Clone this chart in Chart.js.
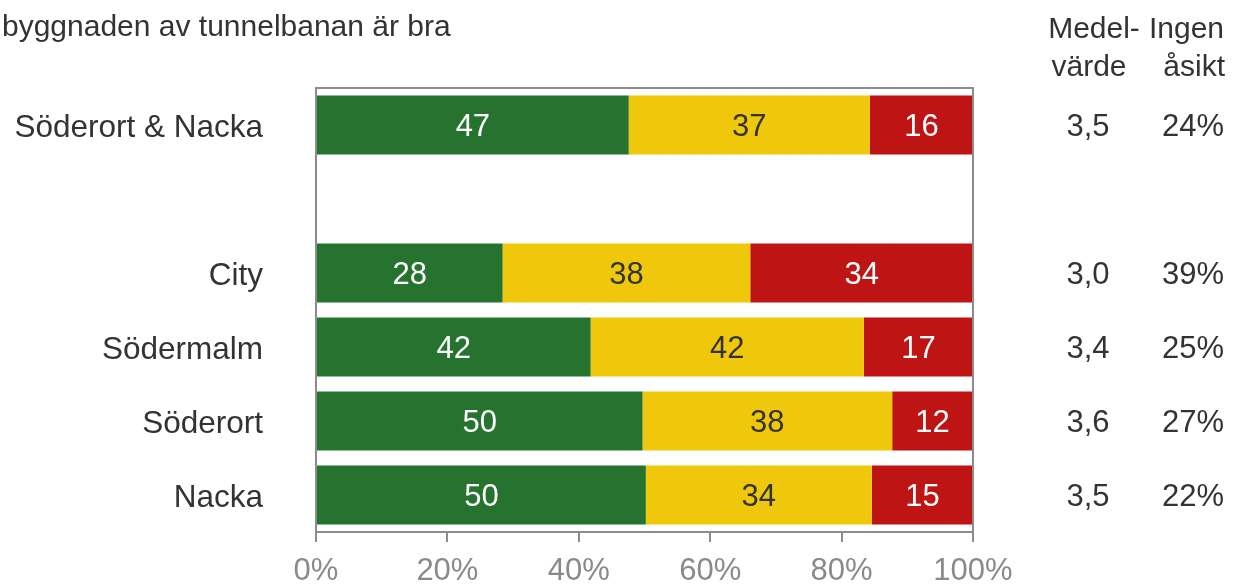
<!DOCTYPE html>
<html>
<head>
<meta charset="utf-8">
<script src="https://cdn.jsdelivr.net/npm/chart.js@4"></script>
<style>
  html, body { margin: 0; padding: 0; background: #fff; }
  #wrap { width: 1233px; height: 586px; }
</style>
</head>
<body>
<div id="wrap"><canvas id="chart" width="1233" height="586"></canvas></div>
<script>
const title = 'byggnaden av tunnelbanan är bra';
const categories = ['Söderort & Nacka', '', 'City', 'Södermalm', 'Söderort', 'Nacka'];

// bar lengths (percent of answers)
const positive = [47.6, null, 28.4, 41.8, 49.7, 50.2];
const neutral  = [36.7, null, 37.7, 41.6, 38.0, 34.4];
const negative = [15.7, null, 33.9, 16.6, 12.3, 15.4];

// numbers printed inside the bars
const positiveLabels = ['47', '', '28', '42', '50', '50'];
const neutralLabels  = ['37', '', '38', '42', '38', '34'];
const negativeLabels = ['16', '', '34', '17', '12', '15'];

const meanValues = ['3,5', '', '3,0', '3,4', '3,6', '3,5'];
const noOpinion  = ['24%', '', '39%', '25%', '27%', '22%'];
const xTicks = [0, 20, 40, 60, 80, 100];

const FONT = 'Liberation Sans, Arial, sans-serif';
const TEXT = '#333333';
const AXIS = '#8c8c8c';

const barLabels = {
    id: 'barLabels',
    afterDatasetsDraw(chart) {
        const ctx = chart.ctx;
        ctx.save();
        ctx.font = '31px ' + FONT;
        ctx.textAlign = 'center';
        ctx.textBaseline = 'middle';
        chart.data.datasets.forEach((ds, di) => {
            chart.getDatasetMeta(di).data.forEach((el, i) => {
                const txt = ds.labels[i];
                if (!txt) return;
                ctx.fillStyle = ds.textColor;
                ctx.fillText(txt, (el.x + el.base) / 2, el.y + 2);
            });
        });
        ctx.restore();
    }
};

const frame = {
    id: 'frame',
    afterDatasetsDraw(chart) {
        const a = chart.chartArea;
        const ctx = chart.ctx;
        ctx.save();
        ctx.strokeStyle = AXIS;
        ctx.lineWidth = 2;
        ctx.strokeRect(a.left, a.top, a.right - a.left, a.bottom - a.top);
        ctx.restore();
    }
};

const sideText = {
    id: 'sideText',
    afterDraw(chart) {
        const ctx = chart.ctx;
        const y = chart.scales.y;
        ctx.save();
        ctx.fillStyle = TEXT;
        ctx.font = '30px ' + FONT;
        ctx.textBaseline = 'alphabetic';
        ctx.textAlign = 'left';
        ctx.fillText(title, 2, 36);

        ctx.textAlign = 'center';
        ctx.fillText('Medel-', 1094, 38);
        ctx.fillText('värde', 1089, 76);
        ctx.textAlign = 'right';
        ctx.fillText('Ingen', 1224, 38);
        ctx.fillText('åsikt', 1225, 76);

        ctx.textBaseline = 'middle';
        categories.forEach((c, i) => {
            const py = y.getPixelForValue(i);
            ctx.font = '31.5px ' + FONT;
            ctx.textAlign = 'right';
            ctx.fillText(c, 263, py + 3);
            ctx.font = '31px ' + FONT;
            ctx.textAlign = 'center';
            ctx.fillText(meanValues[i], 1088, py + 2);
            ctx.textAlign = 'right';
            ctx.fillText(noOpinion[i], 1224, py + 2);
        });
        ctx.restore();
    }
};

new Chart(document.getElementById('chart'), {
    type: 'bar',
    data: {
        labels: categories,
        datasets: [
            { data: positive, labels: positiveLabels, backgroundColor: '#25732f', textColor: '#ffffff' },
            { data: neutral,  labels: neutralLabels,  backgroundColor: '#efc80b', textColor: '#333333' },
            { data: negative, labels: negativeLabels, backgroundColor: '#be1414', textColor: '#ffffff' }
        ]
    },
    options: {
        indexAxis: 'y',
        responsive: false,
        animation: false,
        devicePixelRatio: 1,
        barPercentage: 0.8,
        categoryPercentage: 1.0,
        layout: { padding: { top: 88, right: 260, left: 0, bottom: 0 } },
        plugins: {
            legend: { display: false },
            tooltip: { enabled: false }
        },
        scales: {
            x: {
                stacked: true,
                min: 0,
                max: 100,
                afterBuildTicks: (axis) => { axis.ticks = xTicks.map(v => ({ value: v })); },
                afterFit: (scale) => { scale.height = 54; },
                ticks: {
                    callback: (v) => v + '%',
                    color: '#8a8a8a',
                    font: { family: FONT, size: 31 },
                    padding: 11,
                    maxRotation: 0
                },
                grid: { drawOnChartArea: false, drawTicks: true, tickLength: 10, color: AXIS, lineWidth: 2 },
                border: { color: AXIS, width: 2 }
            },
            y: {
                stacked: true,
                afterFit: (scale) => { scale.width = 316; },
                ticks: { display: false },
                grid: { display: false, drawTicks: false },
                border: { color: AXIS, width: 2 }
            }
        }
    },
    plugins: [barLabels, frame, sideText]
});
</script>
</body>
</html>
